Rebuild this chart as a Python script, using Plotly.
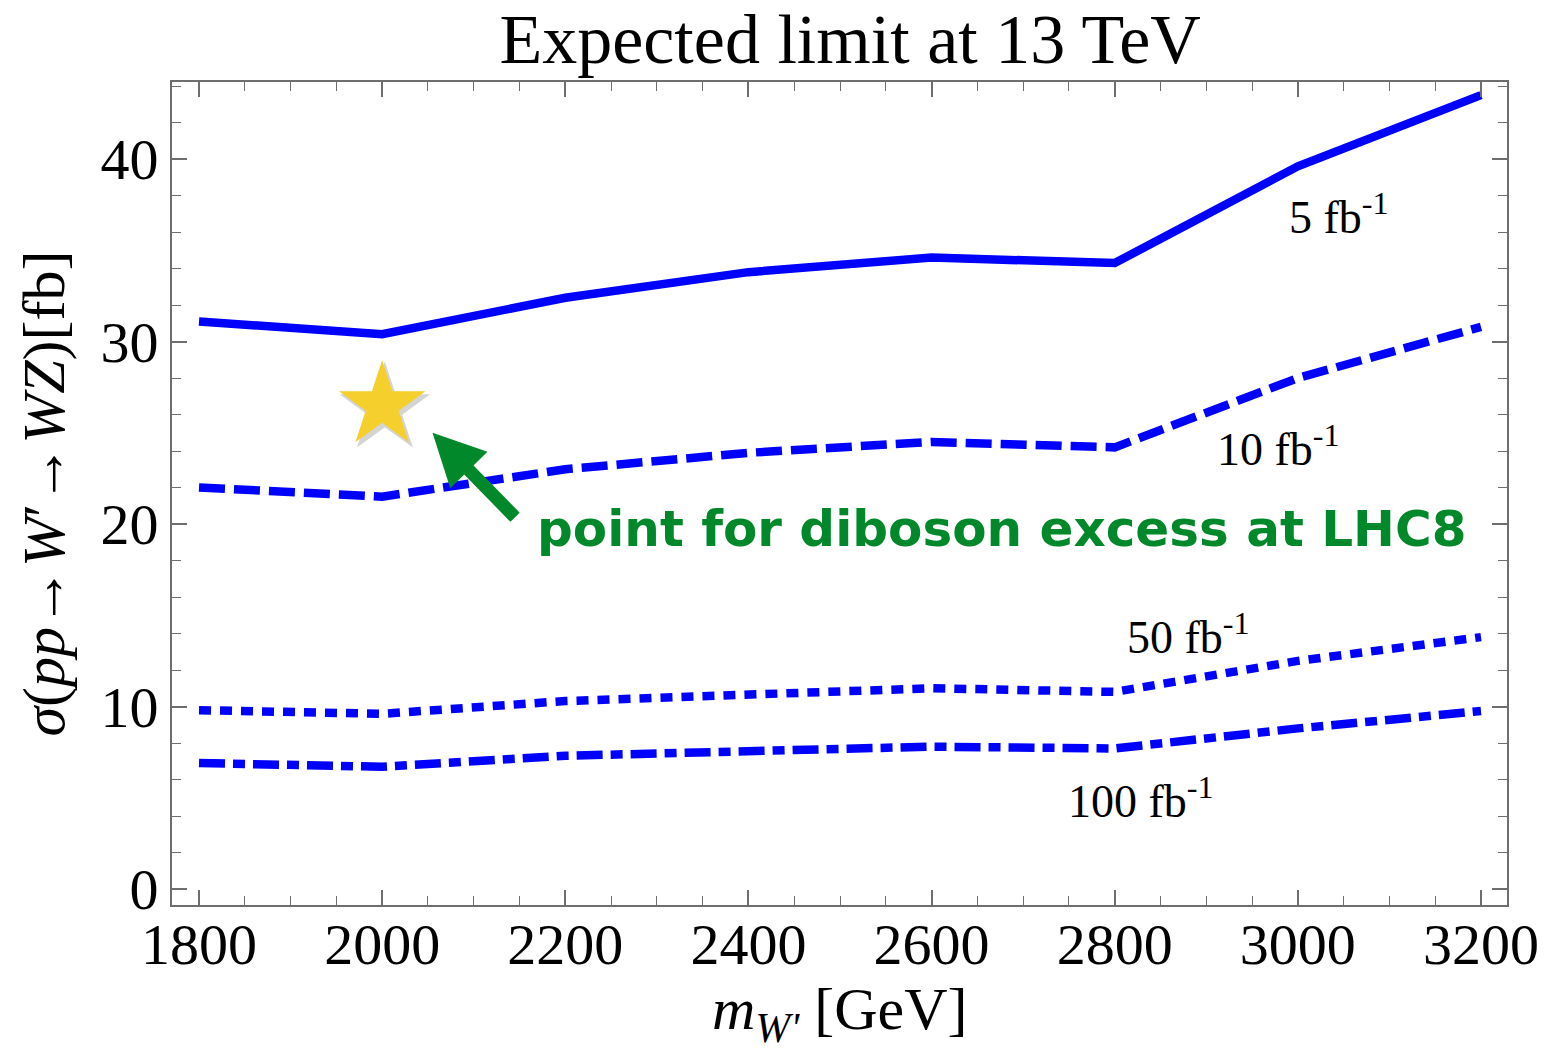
import plotly.graph_objects as go

# W' mass points [GeV]
mass = [1800, 2000, 2200, 2400, 2600, 2800, 3000, 3200]

# expected 95% CL limits on sigma(pp -> W' -> WZ) [fb] for each luminosity
lim_5fb = [31.1, 30.4, 32.4, 33.8, 34.6, 34.3, 39.6, 43.5]
lim_10fb = [22.0, 21.5, 23.0, 23.9, 24.5, 24.2, 28.0, 30.8]
lim_50fb = [9.8, 9.6, 10.3, 10.7, 11.0, 10.8, 12.5, 13.8]
lim_100fb = [6.9, 6.7, 7.3, 7.6, 7.8, 7.7, 8.8, 9.75]

# benchmark point for the diboson excess seen at 8 TeV
excess_mass = [2000]
excess_xsec = [26.5]

# curve labels: text, x anchor (left edge), y centre
lumi_labels = ["5 fb<sup>-1</sup>", "10 fb<sup>-1</sup>", "50 fb<sup>-1</sup>", "100 fb<sup>-1</sup>"]
lumi_label_x = [2988, 2910, 2811, 2747]
lumi_label_y = [37.0, 24.3, 14.0, 5.0]

BLUE = "#0000FF"
GREEN = "#00882B"
STAR = "#F5CF2C"
AXIS = "#6E6E6E"
SERIF = "Liberation Serif"

fig = go.Figure()

series = [
    (lim_5fb, "solid"),
    (lim_10fb, "26px,9px"),
    (lim_50fb, "12px,9px"),
    (lim_100fb, "26px,8px,12px,8px"),
]
for values, dash in series:
    fig.add_trace(go.Scatter(
        x=mass, y=values, mode="lines",
        line=dict(color=BLUE, width=8.5, dash=dash),
        showlegend=False, hoverinfo="skip",
    ))

# soft drop shadow under the star
fig.add_trace(go.Scatter(
    x=[m + 3 for m in excess_mass], y=[s - 0.2 for s in excess_xsec],
    mode="markers",
    marker=dict(symbol="star", size=68, color="rgba(60,60,60,0.22)", line=dict(width=0)),
    showlegend=False, hoverinfo="skip",
))
fig.add_trace(go.Scatter(
    x=excess_mass, y=excess_xsec, mode="markers",
    marker=dict(symbol="star", size=65, color=STAR, line=dict(width=0)),
    showlegend=False, hoverinfo="skip",
))

for txt, lx, ly in zip(lumi_labels, lumi_label_x, lumi_label_y):
    fig.add_annotation(
        x=lx, y=ly, text=txt, showarrow=False,
        xanchor="left", yanchor="middle",
        font=dict(family=SERIF, size=46, color="black"),
    )

# arrow pointing at the benchmark point
fig.add_annotation(
    x=2055, y=25.0, ax=84, ay=86, axref="pixel", ayref="pixel",
    text="", showarrow=True, arrowhead=2, arrowsize=0.8, arrowwidth=13,
    arrowcolor=GREEN, standoff=0,
)
fig.add_annotation(
    x=2167, y=19.7, text="<b>point for diboson excess at LHC8</b>",
    showarrow=False, xanchor="left", yanchor="middle",
    font=dict(family="DejaVu Sans", size=50, color=GREEN),
)

# x-axis title placed below the tick labels
fig.add_annotation(
    xref="paper", yref="paper", x=0.5, y=-0.132,
    text="<i>m</i><sub><i>W'</i></sub> [GeV]", showarrow=False,
    xanchor="center", yanchor="middle",
    font=dict(family=SERIF, size=60, color="black"),
)

axis_common = dict(
    showline=True, linecolor=AXIS, linewidth=2, mirror="allticks",
    ticks="inside", ticklen=15, tickwidth=1.6, tickcolor=AXIS,
    showgrid=False, zeroline=False, automargin=False,
    tickfont=dict(family=SERIF, size=58, color="black"),
)

fig.update_xaxes(
    range=[1770.5, 3228.4], tickmode="linear", tick0=1800, dtick=200,
    minor=dict(dtick=50, ticks="inside", ticklen=9, tickwidth=1.4, tickcolor=AXIS, showgrid=False),
    ticklabelstandoff=-13,
    **axis_common,
)
fig.update_yaxes(
    range=[-0.877, 44.22], tickmode="linear", tick0=0, dtick=10,
    minor=dict(dtick=2, ticks="inside", ticklen=9, tickwidth=1.4, tickcolor=AXIS, showgrid=False),
    title=dict(text="<i>σ</i>(<i>pp</i>→<i>W</i>′→<i>WZ</i>)[fb]", font=dict(family=SERIF, size=60, color="black"), standoff=16),
    ticklabelstandoff=0,
    **axis_common,
)

fig.update_layout(
    width=1550, height=1053,
    margin=dict(l=172, r=43, t=82, b=148),
    paper_bgcolor="white", plot_bgcolor="white",
    title=dict(text="Expected limit at 13 TeV", xref="paper", x=0.508, xanchor="center",
               y=0.963, yanchor="middle",
               font=dict(family=SERIF, size=70, color="black")),
)

fig.write_html("out.html")
